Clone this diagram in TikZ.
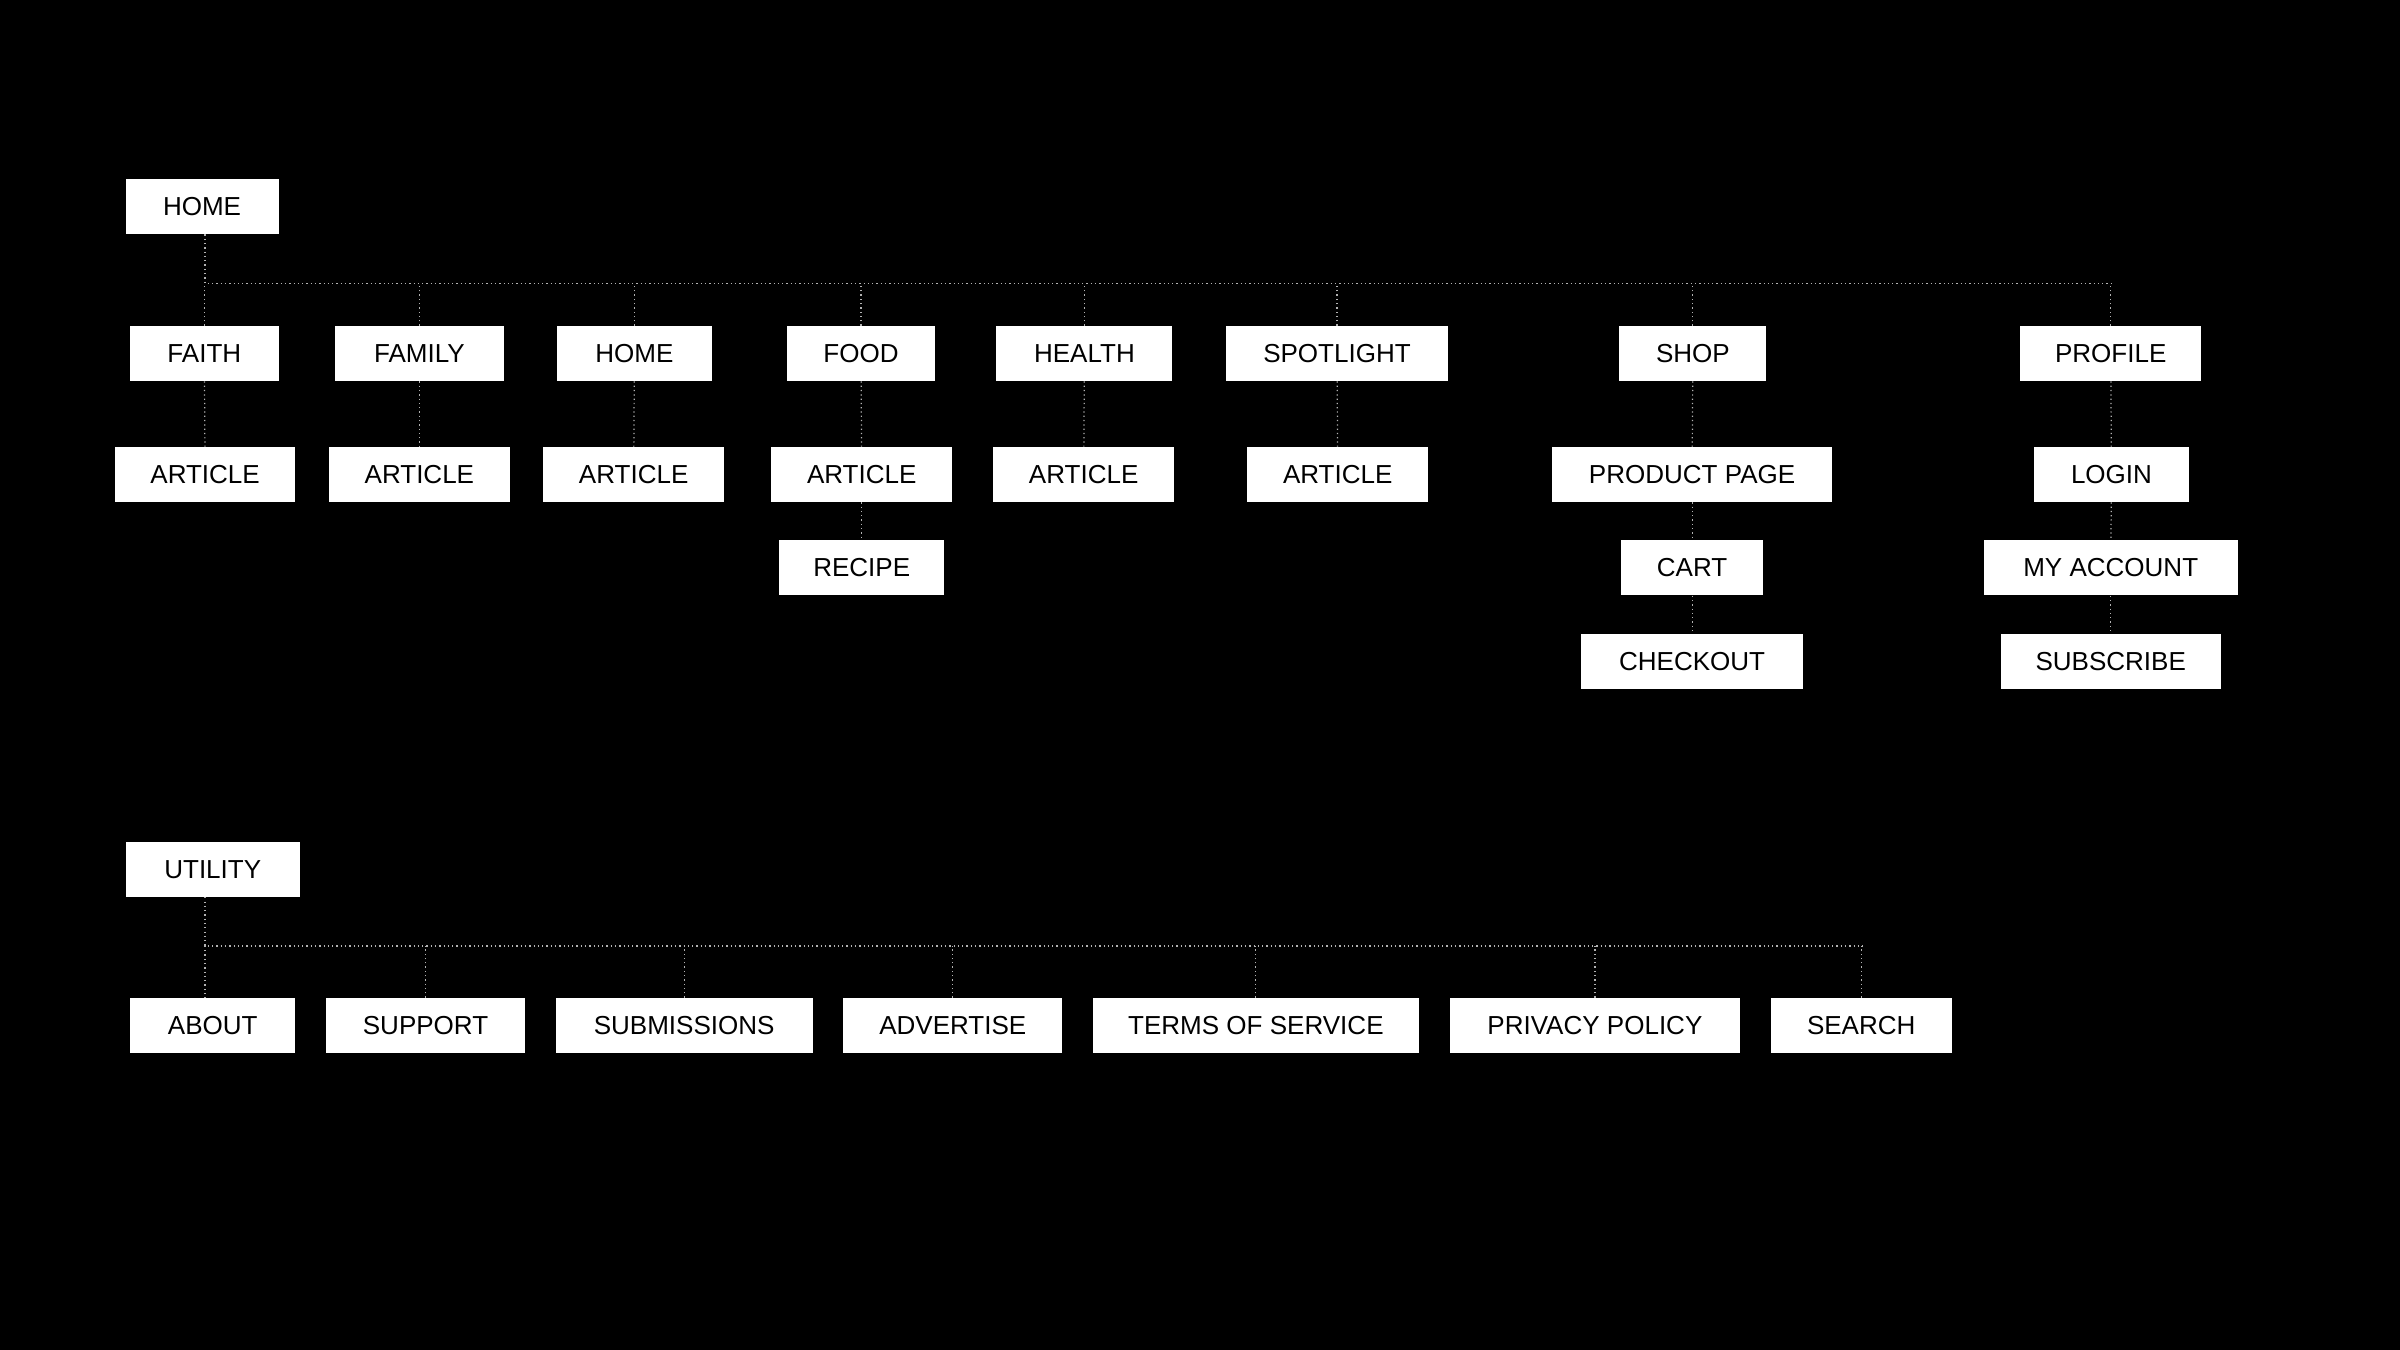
\documentclass[tikz,border=0pt]{standalone}
\usepackage{fontspec}
\setmainfont{Liberation Sans}
\begin{document}
\begin{tikzpicture}[x=1pt,y=-1pt,
  bx/.style={fill=white,draw=none,minimum height=36pt,inner sep=0pt,font=\fontsize{17}{17}\selectfont,text=black},
  conn/.style={draw=white!70!black,dotted,line width=0.8pt}]
\fill[black] (0,0) rectangle (1568,882);
\useasboundingbox (0,0) rectangle (1568,882);
\newcommand{\bxn}[5]{\node[bx,minimum width=#4pt] (#1) at (#2,#3) {#5};}
\bxn{home}{132}{135}{100}{HOME}
\bxn{faith}{133.5}{231}{97}{FAITH}
\bxn{family}{274}{231}{110}{FAMILY}
\bxn{homeb}{414.5}{231}{101}{HOME}
\bxn{food}{562.5}{231}{97}{FOOD}
\bxn{health}{708.5}{231}{115}{HEALTH}
\bxn{spot}{873.5}{231}{145}{SPOTLIGHT}
\bxn{shop}{1106}{231}{96}{SHOP}
\bxn{profile}{1379}{231}{118}{PROFILE}
\bxn{a1}{134}{310}{118}{ARTICLE}
\bxn{a2}{274}{310}{118}{ARTICLE}
\bxn{a3}{414}{310}{118}{ARTICLE}
\bxn{a4}{563}{310}{118}{ARTICLE}
\bxn{a5}{708}{310}{118}{ARTICLE}
\bxn{a6}{874}{310}{118}{ARTICLE}
\bxn{prod}{1105.5}{310}{183}{PRODUCT PAGE}
\bxn{login}{1379.5}{310}{101}{LOGIN}
\bxn{recipe}{563}{371}{108}{RECIPE}
\bxn{cart}{1105.5}{371}{93}{CART}
\bxn{myacc}{1379}{371}{166}{MY ACCOUNT}
\bxn{checkout}{1105.5}{432}{145}{CHECKOUT}
\bxn{subscribe}{1379}{432}{144}{SUBSCRIBE}
\coordinate (bL) at (134,185);
\coordinate (bR) at (1380,185);
\draw[conn] (home.south -| bL) -- (bL) -- (bR);
\foreach \c in {faith,family,homeb,food,health,spot,shop,profile}{
  \draw[conn] (\c.north) -- (\c.north |- bL);}
\draw[conn] (faith) -- (a1);
\draw[conn] (family) -- (a2);
\draw[conn] (homeb) -- (a3);
\draw[conn] (food) -- (a4);
\draw[conn] (a4) -- (recipe);
\draw[conn] (health) -- (a5);
\draw[conn] (spot) -- (a6);
\draw[conn] (shop) -- (prod);
\draw[conn] (prod) -- (cart);
\draw[conn] (cart) -- (checkout);
\draw[conn] (profile) -- (login);
\draw[conn] (login) -- (myacc);
\draw[conn] (myacc) -- (subscribe);
\bxn{util}{139}{568}{114}{UTILITY}
\bxn{about}{139}{670}{108}{ABOUT}
\bxn{support}{278}{670}{130}{SUPPORT}
\bxn{subm}{447}{670}{168}{SUBMISSIONS}
\bxn{adv}{622.5}{670}{143}{ADVERTISE}
\bxn{terms}{820.5}{670}{213}{TERMS OF SERVICE}
\bxn{priv}{1042}{670}{190}{PRIVACY POLICY}
\bxn{search}{1216}{670}{118}{SEARCH}
\coordinate (uL) at (134,618);
\coordinate (uR) at (1217,618);
\draw[conn] (util.south -| uL) -- (uL) -- (uR);
\draw[conn] (uL) -- (uL |- about.north);
\foreach \c in {support,subm,adv,terms,priv,search}{
  \draw[conn] (\c.north) -- (\c.north |- uL);}
\end{tikzpicture}
\end{document}
